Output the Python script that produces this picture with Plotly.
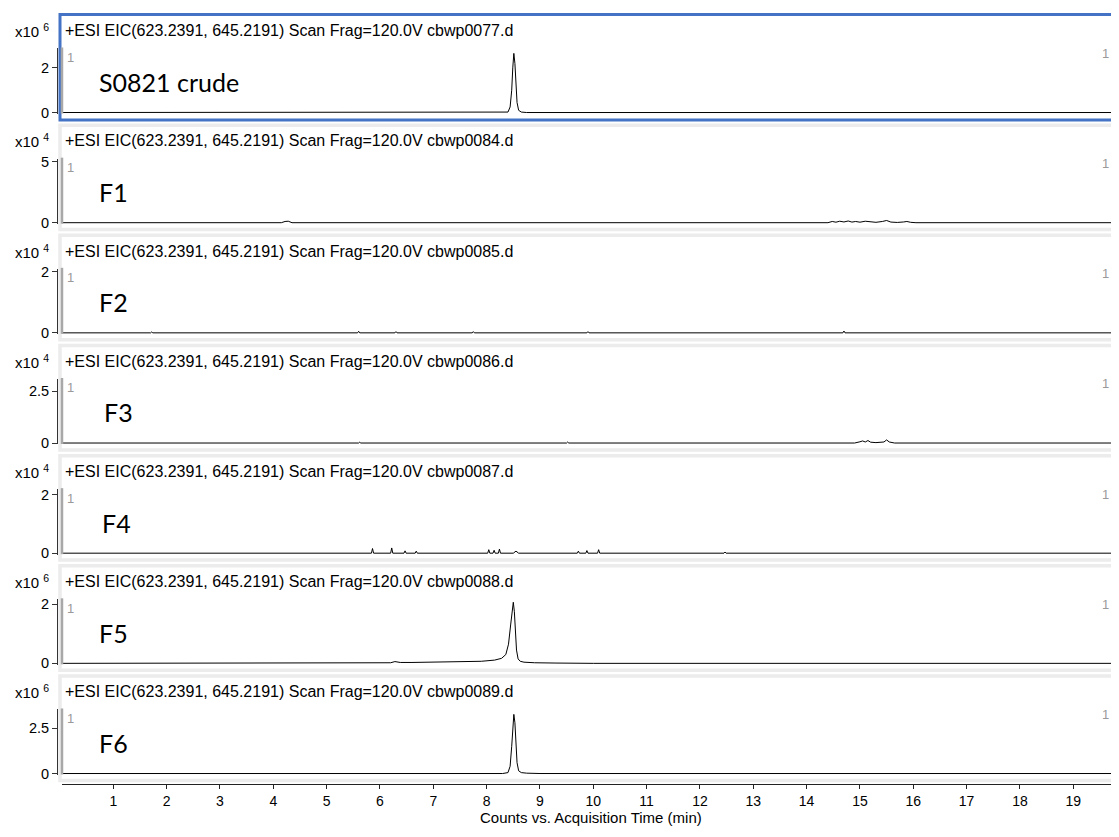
import plotly.graph_objects as go

# ---------------- data (intensities in units of 10^exponent) ----------------
sample_names = ["S0821 crude", "F1", "F2", "F3", "F4", "F5", "F6"]
data_files = ["cbwp0077.d", "cbwp0084.d", "cbwp0085.d", "cbwp0086.d",
              "cbwp0087.d", "cbwp0088.d", "cbwp0089.d"]
exponents = [6, 4, 4, 4, 4, 6, 6]
ytick_top = [2, 5, 2, 2.5, 2, 2, 2.5]
ytick_top_text = ["2", "5", "2", "2.5", "2", "2", "2.5"]
y_axis_max = [2.87, 5.26, 2.1, 3.1, 2.2, 2.17, 3.53]
x_ticks = list(range(1, 20))

crude_t = [0.0, 8.30, 8.40, 8.44, 8.47, 8.49, 8.51, 8.53, 8.55, 8.57, 8.60, 8.65, 8.75, 20.0]
crude_i = [0, 0, 0.02, 0.25, 1.0, 2.0, 2.65, 2.2, 1.2, 0.45, 0.1, 0.02, 0, 0]

f1_t = [0.0, 4.15, 4.22, 4.28, 4.35, 6.3, 6.35, 6.4, 9.8, 9.85, 9.9, 14.4, 14.48, 14.55, 14.62,
        14.7, 14.78, 14.85, 14.92, 15.0, 15.1, 15.2, 15.3, 15.42, 15.5, 15.58, 15.7, 15.82,
        15.88, 15.95, 16.05, 20.0]
f1_i = [0, 0, 0.1, 0.12, 0, 0, 0.04, 0, 0, 0.04, 0, 0, 0.1, 0.04, 0.12, 0.06, 0.14, 0.05, 0.1,
        0.04, 0.12, 0.08, 0.03, 0.1, 0.18, 0.05, 0.02, 0.06, 0.1, 0.03, 0, 0]

f2_t = [0, 1.7, 1.72, 1.74, 5.58, 5.6, 5.62, 6.28, 6.3, 6.32, 7.73, 7.75, 7.77, 9.88, 9.9, 9.92,
        14.68, 14.7, 14.72, 20]
f2_i = [0, 0, 0.03, 0, 0, 0.05, 0, 0, 0.04, 0, 0, 0.04, 0, 0, 0.04, 0, 0, 0.06, 0, 0]

f3_t = [0, 5.6, 5.62, 5.64, 9.5, 9.52, 9.54, 14.9, 15.0, 15.05, 15.1, 15.15, 15.2, 15.3, 15.45,
        15.5, 15.55, 15.65, 20]
f3_i = [0, 0, 0.04, 0, 0, 0.05, 0, 0, 0.06, 0.1, 0.05, 0.12, 0.04, 0.02, 0.05, 0.15, 0.05, 0, 0]

f4_t = [0, 5.84, 5.86, 5.88, 6.20, 6.22, 6.24, 6.45, 6.47, 6.49, 6.66, 6.68, 6.70, 8.02, 8.04,
        8.06, 8.12, 8.14, 8.16, 8.22, 8.24, 8.26, 8.5, 8.55, 8.6, 9.70, 9.72, 9.74, 9.86, 9.88,
        9.90, 10.08, 10.10, 10.12, 12.45, 12.47, 12.49, 20]
f4_i = [0, 0, 0.16, 0, 0, 0.18, 0, 0, 0.08, 0, 0, 0.07, 0, 0, 0.12, 0, 0, 0.1, 0, 0, 0.14, 0, 0,
        0.07, 0, 0, 0.07, 0, 0, 0.09, 0, 0, 0.12, 0, 0, 0.04, 0, 0]

f5_t = [0, 6.0, 6.2, 6.28, 6.38, 6.6, 7.0, 7.5, 7.9, 8.15, 8.28, 8.36, 8.41, 8.45, 8.48, 8.50,
        8.52, 8.54, 8.56, 8.59, 8.63, 8.7, 8.9, 9.3, 10.0, 20]
f5_i = [0, 0, 0.02, 0.06, 0.03, 0.03, 0.04, 0.05, 0.07, 0.11, 0.17, 0.3, 0.65, 1.3, 1.85, 2.07,
        1.75, 1.0, 0.45, 0.15, 0.07, 0.04, 0.02, 0.01, 0, 0]

f6_t = [0, 8.30, 8.40, 8.44, 8.47, 8.49, 8.51, 8.53, 8.55, 8.57, 8.60, 8.65, 8.75, 9.0, 20]
f6_i = [0, 0, 0.05, 0.4, 1.5, 2.7, 3.26, 2.8, 1.6, 0.6, 0.15, 0.05, 0.02, 0, 0]

series_t = [crude_t, f1_t, f2_t, f3_t, f4_t, f5_t, f6_t]
series_i = [crude_i, f1_i, f2_i, f3_i, f4_i, f5_i, f6_i]

# ---------------- layout helpers (window pixel -> paper) ----------------
# the page body has an 8px margin, so the figure is drawn at (8, 8)
OFF = 8
FW, FH = 1103, 821


def xp(px):
    return (px - OFF) / FW


def yp(py):
    return 1 - (py - OFF) / FH


zero_px = [109 + 111.8 * i for i in range(7)]
label_x_px = [97, 97, 97, 102, 100, 97, 97]

HEADER_FONT = dict(family="Liberation Sans, Arial", size=16, color="black")
EXP_FONT = dict(family="Liberation Sans, Arial", size=15, color="black")
TICK_FONT = dict(family="Liberation Sans, Arial", size=14, color="black")
GRAY_FONT = dict(family="Liberation Sans, Arial", size=13, color="#9a9a9a")

fig = go.Figure()
shapes = []
annotations = []
layout_axes = {}

x_left_px = 62
px_per_min = 53.33
x0 = 0.0375
x1 = x0 + (OFF + FW - x_left_px) / px_per_min

for i in range(7):
    ax_name = "y" if i == 0 else f"y{i + 1}"
    lay_name = "yaxis" if i == 0 else f"yaxis{i + 1}"
    Z = zero_px[i]
    hi = y_axis_max[i]
    lo = -hi * 1.5 / 65
    fig.add_trace(go.Scatter(
        x=series_t[i], y=series_i[i], mode="lines", xaxis="x", yaxis=ax_name,
        line=dict(color="black", width=1), showlegend=False, hoverinfo="skip"))
    layout_axes[lay_name] = dict(
        domain=[yp(Z + 1.5), yp(Z - 65)], range=[lo, hi], anchor="free",
        position=xp(57), showline=True, linecolor="#333333", linewidth=1,
        ticks="outside", ticklen=5, tickcolor="#333333", tickwidth=1,
        tickvals=[0, ytick_top[i]], ticktext=["0", ytick_top_text[i]],
        tickfont=dict(family="Liberation Sans, Arial", size=14.5, color="black"),
        showgrid=False, zeroline=False, fixedrange=True)

    # panel frame
    if i == 0:
        shapes.append(dict(type="rect", xref="paper", yref="paper",
                           x0=xp(60), x1=xp(1140), y0=yp(Z + 7.5), y1=yp(Z - 99.5),
                           line=dict(color="#4472C4", width=3), layer="above"))
    else:
        shapes.append(dict(type="rect", xref="paper", yref="paper",
                           x0=xp(60), x1=xp(1140), y0=yp(Z + 7), y1=yp(Z - 99),
                           line=dict(color="#ececec", width=3.5), layer="below"))
    # gray bar along the plot's left edge
    shapes.append(dict(type="line", xref="paper", yref="paper",
                       x0=xp(62), x1=xp(62), y0=yp(Z + 1), y1=yp(Z - 66),
                       line=dict(color="#a8a8a8", width=2.5), layer="above"))

    # header texts
    annotations.append(dict(xref="paper", yref="paper", x=xp(51), y=yp(Z - 83),
                            xanchor="right", yanchor="middle", showarrow=False,
                            text=f"x10 <sup>{exponents[i]}</sup>", font=EXP_FONT))
    annotations.append(dict(xref="paper", yref="paper", x=xp(63), y=yp(Z - 83),
                            xanchor="left", yanchor="middle", showarrow=False,
                            text="+ESI EIC(623.2391, 645.2191) Scan Frag=120.0V " + data_files[i],
                            font=HEADER_FONT))
    annotations.append(dict(xref="paper", yref="paper", x=xp(65), y=yp(Z - 56),
                            xanchor="left", yanchor="middle", showarrow=False, text="1",
                            font=GRAY_FONT))
    annotations.append(dict(xref="paper", yref="paper", x=1.0, y=yp(Z - 60),
                            xanchor="right", yanchor="middle", showarrow=False, text="1",
                            font=GRAY_FONT))
    annotations.append(dict(xref="paper", yref="paper", x=xp(label_x_px[i]), y=yp(Z - 31),
                            xanchor="left", yanchor="middle", showarrow=False,
                            text=sample_names[i],
                            font=dict(family="Lato, Noto Sans", size=25, color="black")))

annotations.append(dict(xref="paper", yref="paper", x=xp(591), y=yp(824),
                        xanchor="center", yanchor="middle", showarrow=False,
                        text="Counts vs. Acquisition Time (min)",
                        font=dict(family="Liberation Sans, Arial", size=15, color="black")))

fig.update_layout(
    width=FW, height=FH, margin=dict(l=0, r=0, t=0, b=0),
    paper_bgcolor="white", plot_bgcolor="white",
    xaxis=dict(domain=[xp(x_left_px), 1], range=[x0, x1], anchor="free",
               position=yp(790.5), showline=True, linecolor="#222222", linewidth=1.2,
               ticks="outside", ticklen=4, tickcolor="#222222",
               tickvals=x_ticks, ticktext=[str(v) for v in x_ticks],
               tickfont=TICK_FONT, showgrid=False, zeroline=False, fixedrange=True),
    shapes=shapes, annotations=annotations, showlegend=False,
    **layout_axes)

fig.write_html("out.html")
